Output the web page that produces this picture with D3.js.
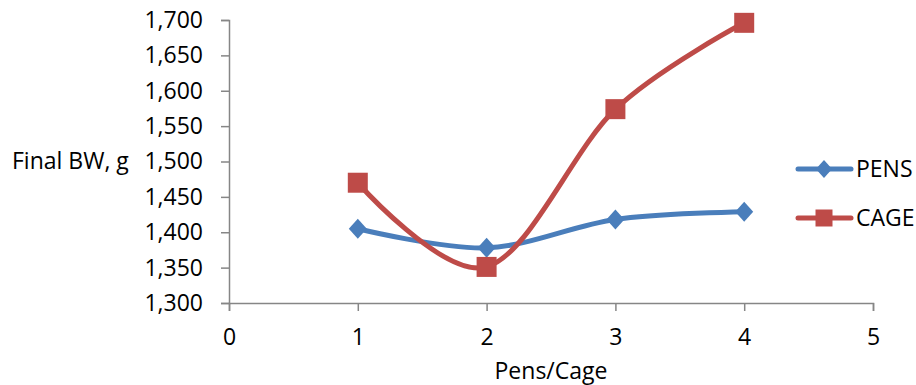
<!DOCTYPE html>
<html>
<head>
<meta charset="utf-8">
<script src="https://cdn.jsdelivr.net/npm/d3@7"></script>
<style>
  body { margin: 0; background: #fff; font-family: "Open Sans", sans-serif; }
</style>
</head>
<body>
<svg id="chart" width="916" height="385"></svg>
<script>
// data
const pensCage = [1, 2, 3, 4]
const pens = [1405, 1378, 1418, 1429]
const cage = [1470, 1351, 1574, 1696]
const yTicks = [1300, 1350, 1400, 1450, 1500, 1550, 1600, 1650, 1700]
const xTicks = [0, 1, 2, 3, 4, 5]
const seriesNames = ["PENS", "CAGE"]

const blue = "#4a7ebb"
const red = "#be4b48"
const axisGrey = "#868686"
const fontSize = "23px"

const svg = d3.select("#chart")

const margin = { top: 20, left: 229, right: 43, bottom: 82 }
const width = 916 - margin.left - margin.right
const height = 385 - margin.top - margin.bottom

const xScale = d3.scaleLinear().domain([0, 5]).range([margin.left, margin.left + width])
const yScale = d3.scaleLinear().domain([1300, 1700]).range([margin.top + height, margin.top])

// axes
const yAxis = svg.append("g")
    .attr("transform", `translate(${margin.left},0)`)
    .call(d3.axisLeft(yScale).tickValues(yTicks).tickSize(8).tickPadding(18).tickFormat(d3.format(",")))
const xAxis = svg.append("g")
    .attr("transform", `translate(0,${margin.top + height})`)
    .call(d3.axisBottom(xScale).tickValues(xTicks).tickSize(8).tickPadding(18).tickFormat(d3.format("d")))

;[xAxis, yAxis].forEach(ax => {
    ax.select(".domain").attr("stroke", axisGrey).attr("stroke-width", 1.5)
    ax.selectAll(".tick line").attr("stroke", axisGrey).attr("stroke-width", 1.5)
    ax.selectAll("text")
        .attr("fill", "#000")
        .attr("font-size", fontSize)
        .attr("font-family", "'Open Sans', sans-serif")
})

// axis titles
svg.append("text")
    .attr("x", 12).attr("y", yScale(1500))
    .attr("dy", "0.32em")
    .attr("font-size", fontSize)
    .text("Final BW, g")

svg.append("text")
    .attr("x", (xScale(0) + xScale(5)) / 2).attr("y", 372)
    .attr("dy", "0.32em")
    .attr("text-anchor", "middle")
    .attr("font-size", fontSize)
    .text("Pens/Cage")

const line = d3.line()
    .x((d, i) => xScale(pensCage[i]))
    .y(d => yScale(d))
    .curve(d3.curveCatmullRom.alpha(0))

// Excel-style diamond: a bit wider than d3's symbolDiamond
const wideDiamond = {
    draw(context, size) {
        const h = Math.sqrt(size) / 2
        const w = h * 0.9
        context.moveTo(0, -h)
        context.lineTo(w, 0)
        context.lineTo(0, h)
        context.lineTo(-w, 0)
        context.closePath()
    }
}

const series = [
    { name: seriesNames[0], values: pens, color: blue, symbol: wideDiamond, size: 400, legendSize: 324 },
    { name: seriesNames[1], values: cage, color: red, symbol: d3.symbolSquare, size: 400, legendSize: 289 }
]

series.forEach(s => {
    svg.append("path")
        .attr("d", line(s.values))
        .attr("fill", "none")
        .attr("stroke", s.color)
        .attr("stroke-width", 5)
        .attr("stroke-linecap", "round")

    svg.append("g").selectAll("path")
        .data(s.values)
        .enter()
        .append("path")
            .attr("transform", (d, i) => `translate(${xScale(pensCage[i])},${yScale(d)})`)
            .attr("d", d3.symbol().type(s.symbol).size(s.size))
            .attr("fill", s.color)
})

// legend
const legend = svg.append("g")
series.forEach((s, i) => {
    const y = 169 + i * 49
    legend.append("line")
        .attr("x1", 798).attr("x2", 851)
        .attr("y1", y).attr("y2", y)
        .attr("stroke", s.color)
        .attr("stroke-width", 5)
        .attr("stroke-linecap", "round")
    legend.append("path")
        .attr("transform", `translate(824,${y})`)
        .attr("d", d3.symbol().type(s.symbol).size(s.legendSize))
        .attr("fill", s.color)
    legend.append("text")
        .attr("x", 856).attr("y", y)
        .attr("dy", "0.35em")
        .attr("font-size", fontSize)
        .text(s.name)
})
</script>
</body>
</html>
